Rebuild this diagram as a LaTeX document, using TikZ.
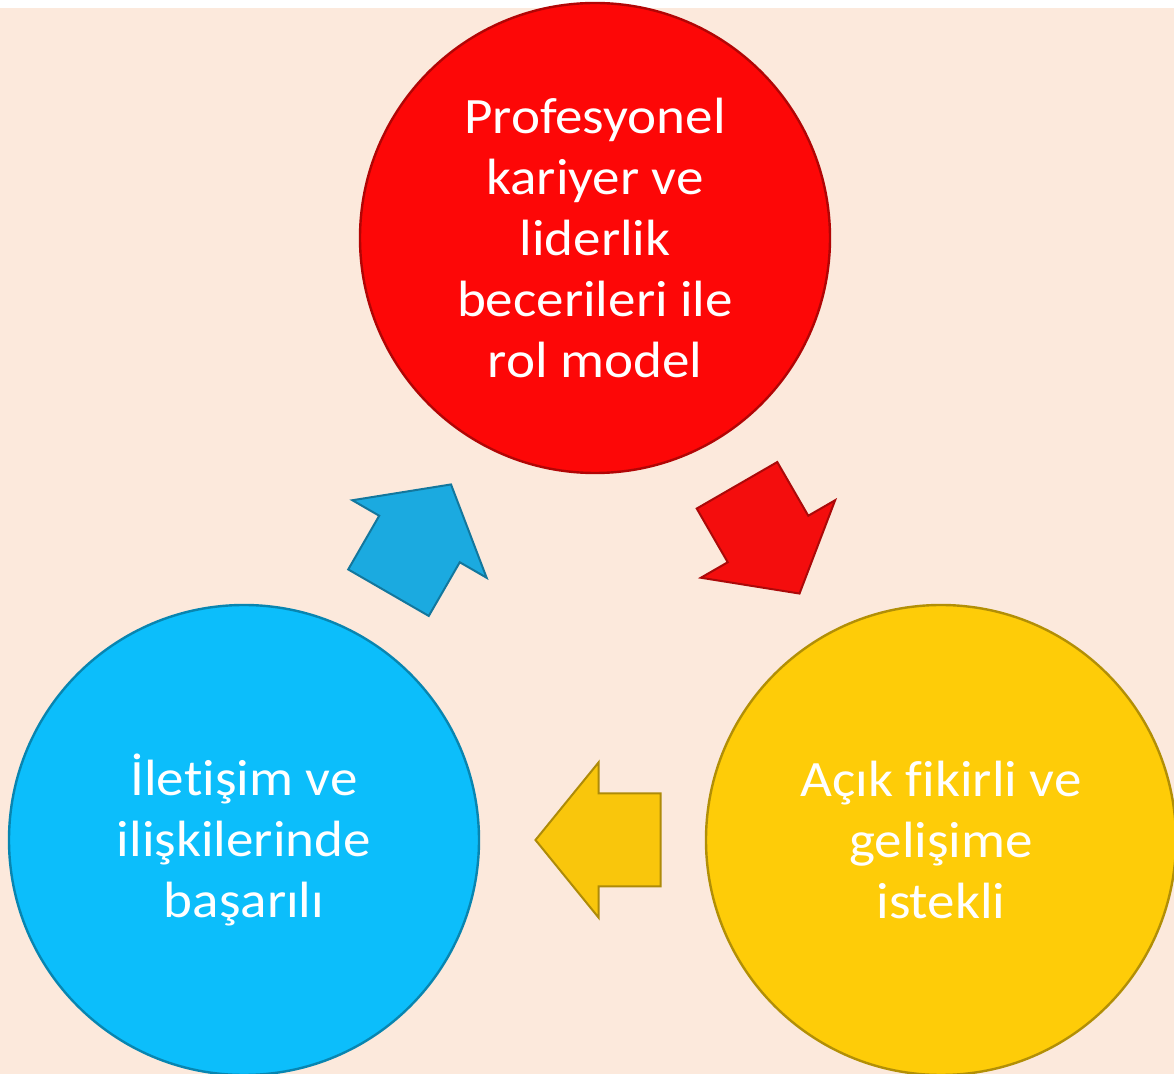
\documentclass[tikz,border=0pt]{standalone}
\usepackage{fontspec}
\setmainfont[Ligatures=NoCommon, FakeStretch=1.08]{Carlito}
\usetikzlibrary{calc}

\definecolor{zemin}{HTML}{FCE9DC}
\definecolor{kirmizi}{HTML}{FD0707}
\definecolor{mavi}{HTML}{0CBEFB}
\definecolor{sari}{HTML}{FECC08}
\definecolor{kirmiziok}{HTML}{F40D0D}
\definecolor{maviok}{HTML}{1BAAE0}
\definecolor{sariok}{HTML}{F9C60C}

\tikzset{
  daire/.style={circle, minimum size=235pt, inner sep=0pt, line width=1.2pt,
    text=white, align=center, font=\fontsize{25.5}{30.6}\selectfont},
  okcizgi/.style={line width=1pt, line join=miter},
  blokok/.pic={
    \filldraw[okcizgi] (-62,-46.5) -- (0,-46.5) -- (0,-77.5) -- (63,0)
      -- (0,77.5) -- (0,46.5) -- (-62,46.5) -- cycle;
  }
}

\begin{document}
\begin{tikzpicture}[x=0.5pt, y=-0.5pt]
\useasboundingbox (0,0) rectangle (1174,1074);
\fill[white] (0,0) rectangle (1174,8);
\fill[zemin] (0,8) rectangle (1174,1074);

\node[daire, fill=kirmizi, draw=kirmizi!70!black] (rol) at (595,238)
  {Profesyonel\\kariyer ve\\liderlik\\becerileri ile\\rol model};
\node[daire, fill=sari, draw=sari!70!black] (acik) at (941,840)
  {Açık fikirli ve\\gelişime\\istekli};
\node[daire, fill=mavi, draw=mavi!70!black] (iletisim) at (244,840)
  {İletişim ve\\ilişkilerinde\\başarılı};

\path ($(rol)!0.5!(acik)$) pic[rotate=-60, fill=kirmiziok, draw=kirmiziok!70!black] {blokok};
\path ($(acik)!0.5!(iletisim)+(6,0)$) pic[rotate=180, fill=sariok, draw=sariok!70!black] {blokok};
\path ($(iletisim)!0.5!(rol)$) pic[rotate=60, fill=maviok, draw=maviok!70!black] {blokok};
\end{tikzpicture}
\end{document}
